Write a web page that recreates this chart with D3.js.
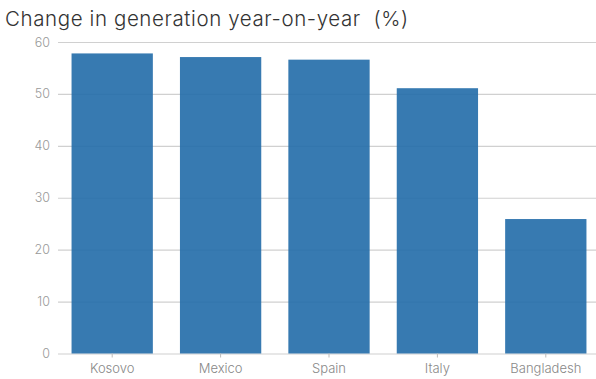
<!DOCTYPE html>
<html>
<head>
<meta charset="utf-8">
<script src="https://cdn.jsdelivr.net/npm/d3@7"></script>
<style>
  body { margin: 0; background: #fff; }
  svg { display: block; font-family: Inter, "Noto Sans", sans-serif; font-weight: 300; }
</style>
</head>
<body>
<div id="chart"></div>
<script>
var countries = ["Kosovo", "Mexico", "Spain", "Italy", "Bangladesh"];
var changePct = [57.8, 57.1, 56.6, 51.1, 25.9];
var yTicks = [0, 10, 20, 30, 40, 50, 60];
var title = "Change in generation year-on-year\u00a0\u00a0(%)";

var width = 596;
var height = 379;
var plotLeft = 58, plotRight = 600, plotTop = 42, plotBottom = 353.5;

var svg = d3.select("#chart").append("svg")
  .attr("width", width)
  .attr("height", height);

var x = d3.scaleBand()
  .domain(countries)
  .range([plotLeft, plotRight])
  .paddingInner(0.25)
  .paddingOuter(0.125);

var y = d3.scaleLinear()
  .domain([0, 60])
  .range([plotBottom, plotTop]);

svg.append("text")
  .attr("x", 5)
  .attr("y", 26)
  .attr("fill", "#333")
  .style("font-size", "20.5px")
  .style("font-weight", 300)
  .style("letter-spacing", "0.6px")
  .text(title);

// gridlines + y labels
var yAxis = svg.append("g")
  .attr("transform", "translate(" + plotLeft + ",0)")
  .call(d3.axisLeft(y).tickValues(yTicks).tickSize(-(width - plotLeft)).tickPadding(8));
yAxis.select(".domain").remove();
yAxis.selectAll(".tick line").attr("stroke", "#d0d0d0").attr("stroke-width", 1.2);
yAxis.selectAll(".tick text")
  .attr("fill", "#999")
  .style("font-size", "12.5px")
  .style("font-weight", 300)
  .style("font-family", "Inter, sans-serif");

svg.selectAll("rect.bar")
  .data(countries)
  .enter()
  .append("rect")
  .attr("class", "bar")
  .attr("x", function (d) { return x(d); })
  .attr("width", x.bandwidth())
  .attr("y", function (d, i) { return y(changePct[i]); })
  .attr("height", function (d, i) { return y(0) - y(changePct[i]); })
  .attr("fill", "#216ca9")
  .attr("opacity", 0.9);

var xAxis = svg.append("g")
  .attr("transform", "translate(0," + plotBottom + ")")
  .call(d3.axisBottom(x).tickSize(4).tickPadding(6));
xAxis.select(".domain").remove();
xAxis.selectAll(".tick line").attr("stroke", "#bbb");
xAxis.selectAll(".tick text")
  .attr("fill", "#888")
  .style("font-size", "13px")
  .style("font-weight", 300)
  .style("font-family", "Inter, sans-serif");
</script>
</body>
</html>
